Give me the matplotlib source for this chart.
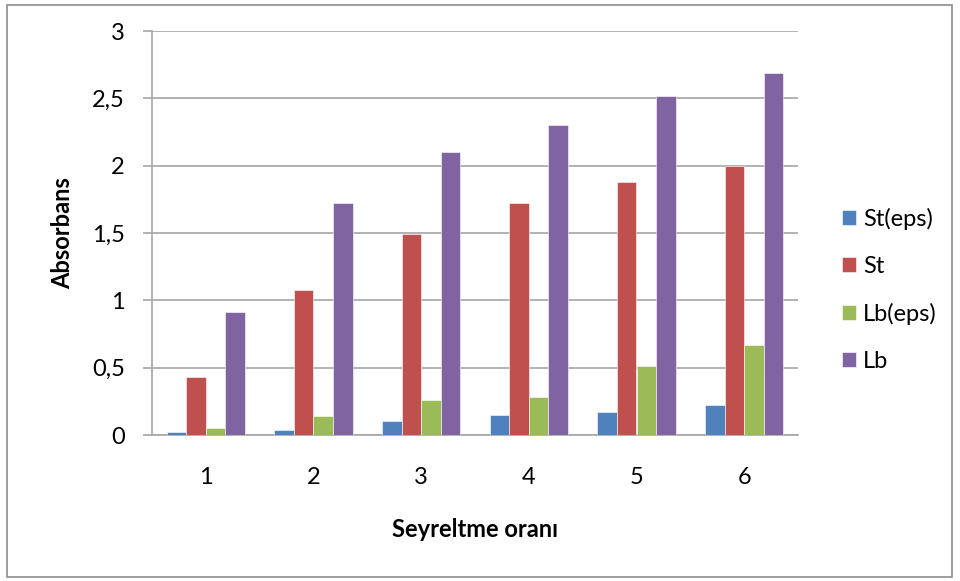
import matplotlib
matplotlib.use("Agg")
import matplotlib.pyplot as plt
import numpy as np
from matplotlib.patches import Rectangle
from matplotlib.ticker import FuncFormatter

# Dilution steps and absorbance readings
categories = ["1", "2", "3", "4", "5", "6"]
series_names = ["St(eps)", "St", "Lb(eps)", "Lb"]
st_eps = [0.02, 0.04, 0.105, 0.145, 0.17, 0.22]
st = [0.43, 1.08, 1.49, 1.72, 1.88, 2.00]
lb_eps = [0.05, 0.14, 0.26, 0.285, 0.51, 0.665]
lb = [0.915, 1.72, 2.10, 2.30, 2.52, 2.69]
colors = ["#4F81BD", "#C0504D", "#9BBB59", "#8064A2"]

plt.rcParams["font.family"] = ["Lato", "DejaVu Sans"]
FS = 17

fig = plt.figure(figsize=(9.6, 5.81), dpi=100)
ax = fig.add_axes([152 / 960, 1 - 435 / 581, (798 - 152) / 960, (435 - 31) / 581])

# outer chart frame
fig.patches.append(Rectangle((7 / 960, 4 / 581), 945 / 960, 572 / 581,
                             transform=fig.transFigure, fill=False,
                             edgecolor="#8C8C8C", linewidth=1.2))

x = np.arange(len(categories))
bw = 1 / 5.5
values = [st_eps, st, lb_eps, lb]
for i, (name, vals, c) in enumerate(zip(series_names, values, colors)):
    ax.bar(x + (i - 1.5) * bw, vals, width=bw, color=c, label=name,
           edgecolor="white", linewidth=0.4, zorder=3)

ax.set_xlim(-0.5, len(categories) - 0.5)
ax.set_ylim(0, 3)
ax.set_yticks(np.arange(0, 3.01, 0.5))
ax.yaxis.set_major_formatter(FuncFormatter(
    lambda v, p: ("%g" % v).replace(".", ",")))
ax.set_xticks(x)
ax.set_xticklabels(categories)

ax.grid(axis="y", color="#A6A6A6", linewidth=1.2, zorder=0)
for side in ["top", "right"]:
    ax.spines[side].set_visible(False)
for side in ["left", "bottom"]:
    ax.spines[side].set_color("#A6A6A6")
    ax.spines[side].set_linewidth(1.2)
ax.tick_params(axis="y", length=6.5, color="#A6A6A6", width=1.2,
               labelsize=FS, pad=13)
ax.tick_params(axis="x", length=0, labelsize=FS, pad=23)

ax.set_ylabel("Absorbans", fontsize=FS, fontweight="bold", va="center")
ax.yaxis.set_label_coords(-0.139, 0.5)
ax.set_xlabel("Seyreltme oranı", fontsize=FS, fontweight="bold", va="center")
ax.xaxis.set_label_coords(0.5, -0.235)

ax.legend(loc="center left", bbox_to_anchor=(1.068, 0.359), frameon=False,
          fontsize=FS, handlelength=0.6, handleheight=0.6, handletextpad=0.3,
          labelspacing=1.1, borderpad=0, borderaxespad=0)

fig.savefig("out.png", dpi=100)
